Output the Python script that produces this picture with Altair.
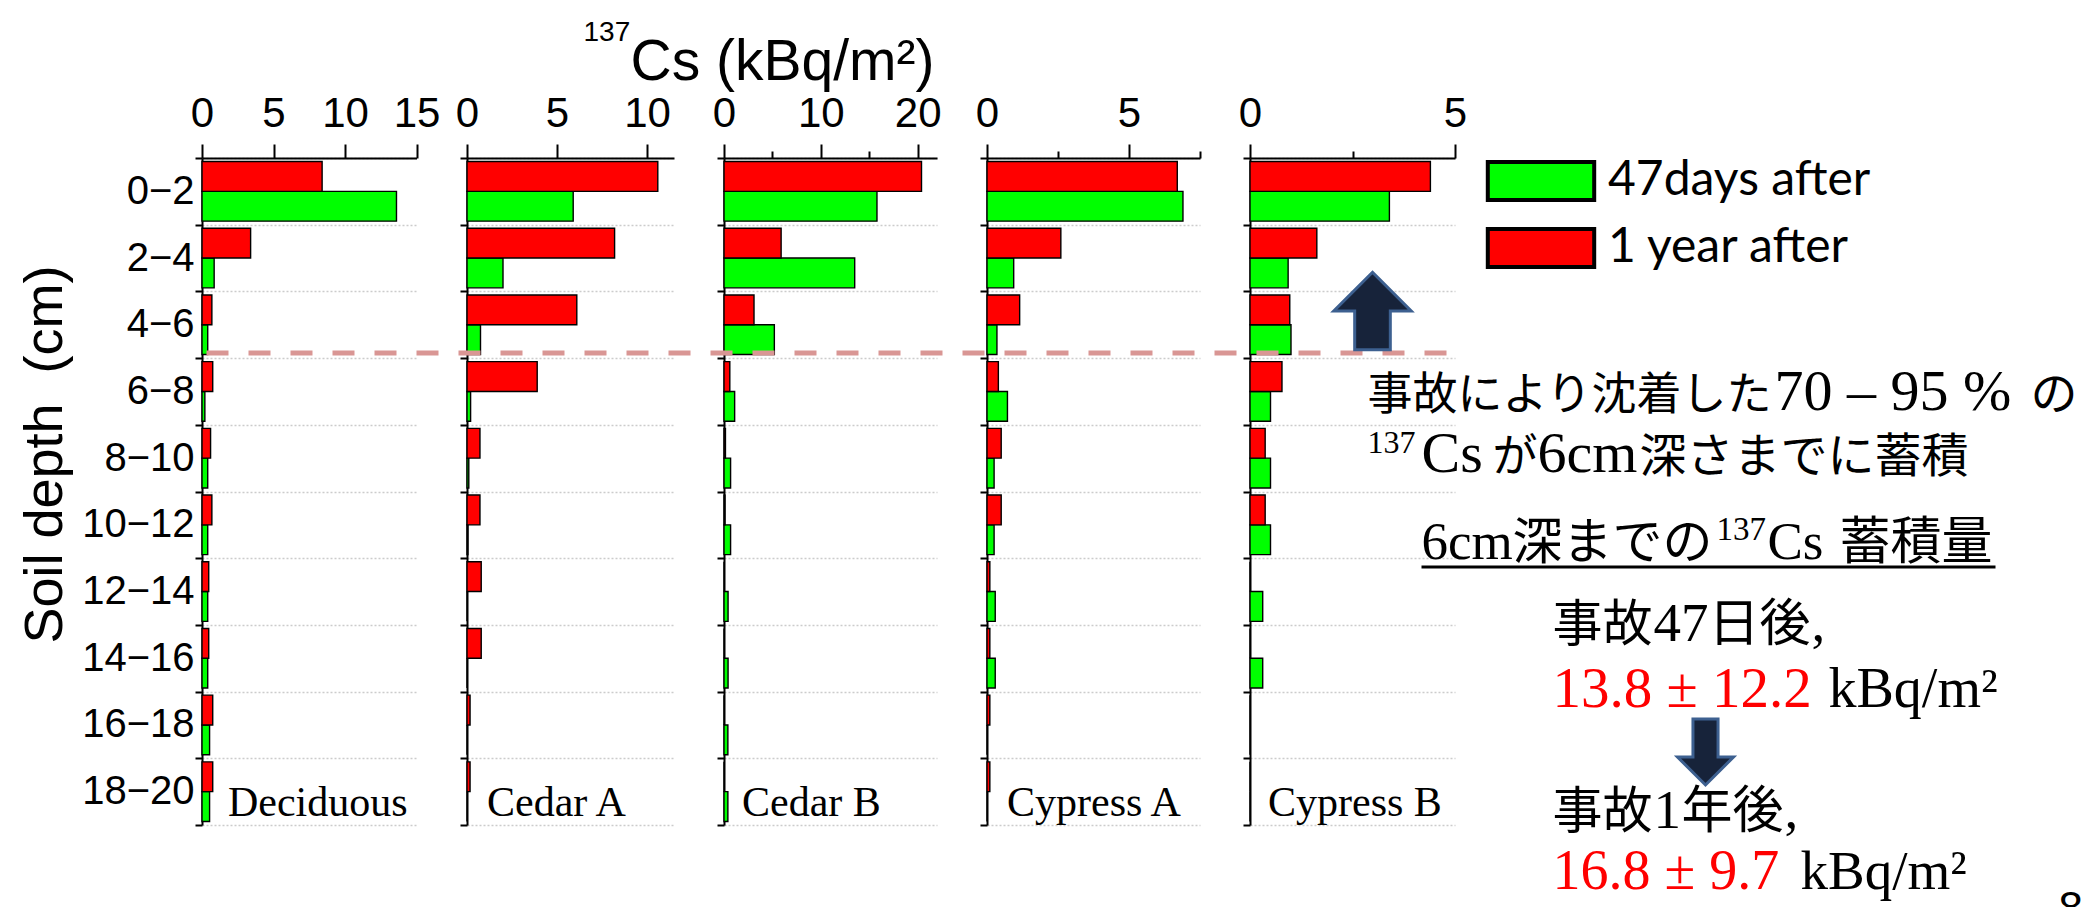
import altair as alt
import pandas as pd

# ---------------- data ----------------
depths = ["0−2", "2−4", "4−6", "6−8", "8−10", "10−12", "12−14", "14−16", "16−18", "18−20"]
series_names = ["47days after", "1 year after"]
sites = ["Deciduous", "Cedar A", "Cedar B", "Cypress A", "Cypress B"]

deciduous_47d = [13.6, 0.85, 0.4, 0.2, 0.4, 0.4, 0.4, 0.4, 0.53, 0.53]
deciduous_1y = [8.4, 3.4, 0.69, 0.75, 0.6, 0.69, 0.47, 0.47, 0.75, 0.75]
cedarA_47d = [5.9, 2.0, 0.75, 0.2, 0.1, 0.05, 0, 0, 0, 0]
cedarA_1y = [10.6, 8.2, 6.1, 3.9, 0.72, 0.72, 0.79, 0.79, 0.17, 0.17]
cedarB_47d = [15.8, 13.5, 5.2, 1.1, 0.68, 0.68, 0.42, 0.42, 0.4, 0.4]
cedarB_1y = [20.4, 5.9, 3.1, 0.6, 0.15, 0.1, 0, 0, 0, 0]
cypressA_47d = [6.9, 0.94, 0.35, 0.72, 0.25, 0.25, 0.29, 0.29, 0, 0]
cypressA_1y = [6.7, 2.6, 1.15, 0.4, 0.5, 0.5, 0.1, 0.1, 0.1, 0.1]
cypressB_47d = [3.4, 0.93, 1.0, 0.5, 0.5, 0.5, 0.31, 0.31, 0, 0]
cypressB_1y = [4.4, 1.63, 0.97, 0.78, 0.37, 0.37, 0, 0, 0, 0]

x_max = [15, 11.5, 22, 7.5, 5]
tick_values = [[0, 5, 10, 15], [0, 5, 10], [0, 5, 10, 15, 20], [0, 2.5, 5, 7.5], [0, 2.5, 5]]
label_step = [5, 5, 10, 5, 5]

# ---------------- layout / style ----------------
widths = [214.5, 207, 213, 213, 205]
PLOT_H = 667
SPACING = 50
LEFT, TOP = 202, 158
P5X = LEFT + sum(widths[:4]) + 4 * SPACING
P5Y = TOP
label_off = [26, 20, 18, 20, 18]

GREEN, RED = "#00ff00", "#ff0000"
SANS = "Liberation Sans"
SERIF = "Liberation Serif"
CJK = "Noto Sans CJK JP"


def note(text, X, Y, size, font, color="black", align="left", baseline="alphabetic"):
    return alt.Chart(pd.DataFrame({"t": [text]})).mark_text(
        align=align, baseline=baseline, font=font, fontSize=size, color=color
    ).encode(text="t:N", x=alt.value(X - P5X), y=alt.value(Y - P5Y))


def panel(i, v47, v1y):
    df = pd.DataFrame({
        "depth": depths * 2,
        "series": [series_names[0]] * len(depths) + [series_names[1]] * len(depths),
        "value": v47 + v1y,
    })
    step = label_step[i]
    xaxis = alt.Axis(
        orient="top", values=tick_values[i], title=None, grid=False,
        labelExpr=f"datum.value % {step} === 0 ? datum.label : ''",
        tickSize={"condition": {"test": f"datum.value % {step} === 0", "value": 14}, "value": 7},
        tickColor="black", tickWidth=2, domainColor="black", domainWidth=2,
        labelFont=SANS, labelFontSize=42, labelColor="black", labelPadding=9,
        labelFlush=False, labelOverlap=False,
    )
    yargs = dict(
        tickBand="extent", grid=True, gridColor="#cccccc", gridDash=[2, 2], gridWidth=1.5,
        domainColor="black", domainWidth=2, tickColor="black", tickWidth=2, tickSize=7,
        labels=(i == 0),
    )
    if i == 0:
        yargs.update(
            title="Soil depth\u00a0 (cm)", titleFont=SANS, titleFontSize=54, titleFontWeight="normal",
            titleColor="black", titleX=-157, titleY=296, titleAngle=270,
            titleAlign="center", titleBaseline="middle",
            labelFont=SANS, labelFontSize=40, labelColor="black", labelPadding=1,
        )
    else:
        yargs.update(title=None)
    yaxis = alt.Axis(**yargs)

    bars = alt.Chart(df).mark_bar(stroke="black", strokeWidth=1.4, opacity=1).encode(
        x=alt.X("value:Q", scale=alt.Scale(domain=[0, x_max[i]], nice=False, zero=True), axis=xaxis),
        y=alt.Y("depth:N", sort=depths, scale=alt.Scale(paddingInner=0, paddingOuter=0), axis=yaxis),
        yOffset=alt.YOffset("series:N", sort=[series_names[1], series_names[0]],
                            scale=alt.Scale(paddingInner=0, paddingOuter=0.12)),
        color=alt.Color(
            "series:N",
            scale=alt.Scale(domain=series_names, range=[GREEN, RED]),
            legend=alt.Legend(
                title=None, orient="none", legendX=1299, legendY=-17,
                symbolType="M-1.4,-0.5H1.4V0.5H-1.4Z", symbolSize=5776,
                symbolStrokeColor="black", symbolStrokeWidth=4, symbolOpacity=1,
                labelFont="Lato", labelFontSize=48, labelColor="black", labelLimit=0,
                labelOffset=27, rowPadding=-1, padding=0,
            ),
        ),
    )
    label = alt.Chart(pd.DataFrame({"site": [sites[i]]})).mark_text(
        align="left", baseline="middle", font=SERIF, fontSize=42, color="black"
    ).encode(text="site:N", x=alt.value(label_off[i]), y=alt.value(803 - TOP))
    return [bars, label]


values = [
    (deciduous_47d, deciduous_1y), (cedarA_47d, cedarA_1y), (cedarB_47d, cedarB_1y),
    (cypressA_47d, cypressA_1y), (cypressB_47d, cypressB_1y),
]

up_arrow = "M0,-1L1,0L0.46,0L0.46,1L-0.46,1L-0.46,0L-1,0Z"
down_arrow = "M-0.38,-1L0.38,-1L0.38,0.15L0.85,0.15L0,1L-0.85,0.15L-0.38,0.15Z"
one = pd.DataFrame({"a": [0]})

annotations = [
    alt.Chart(one).mark_rule(color="#d99694", strokeWidth=5, strokeDash=[22, 20]).encode(
        x=alt.value(206 - P5X), x2=alt.value(1452 - P5X), y=alt.value(353 - P5Y)),
    alt.Chart(one).mark_point(shape=up_arrow, size=6000, filled=True, fill="#17233a",
                              stroke="#3d6090", strokeWidth=3, opacity=1).encode(
        x=alt.value(1372 - P5X), y=alt.value(311 - P5Y)),
    alt.Chart(one).mark_point(shape=down_arrow, size=4356, filled=True, fill="#17233a",
                              stroke="#3d6090", strokeWidth=3, opacity=1).encode(
        x=alt.value(1705 - P5X), y=alt.value(752 - P5Y)),
    alt.Chart(one).mark_rule(color="black", strokeWidth=3).encode(
        x=alt.value(1421 - P5X), x2=alt.value(1995 - P5X), y=alt.value(567 - P5Y)),
    # axis title
    note("137", 583, 33, 28, SANS, baseline="middle"),
    note("Cs (kBq/m²)", 630, 80, 57, SANS),
    # line 1
    note("事故により沈着した", 1367, 410, 45, CJK),
    note("70 – 95 %", 1774, 410, 58, SERIF),
    note("の", 2030, 410, 47, CJK),
    # line 2
    note("137", 1367, 453, 32, SERIF),
    note("Cs", 1421, 472, 58, SERIF),
    note("が", 1492, 472, 45, CJK),
    note("6cm", 1537, 472, 58, SERIF),
    note("深さまでに蓄積", 1639, 472, 47, CJK),
    # line 3 (underlined)
    note("6cm", 1421, 559, 53, SERIF),
    note("深までの", 1512, 559, 50, CJK),
    note("137", 1716, 540, 33, SERIF),
    note("Cs", 1767, 559, 53, SERIF),
    note("蓄積量", 1839, 559, 51, CJK),
    # line 4
    note("事故", 1552, 641, 50, CJK),
    note("47", 1653, 641, 55, SERIF),
    note("日後", 1708, 641, 51, CJK),
    note(",", 1811, 641, 55, SERIF),
    # line 5
    note("13.8 ± 12.2", 1552, 707, 57, SERIF, color=RED),
    note("kBq/m²", 1828, 707, 56, SERIF),
    # line 6
    note("事故", 1552, 828, 50, CJK),
    note("1", 1653, 828, 55, SERIF),
    note("年後", 1681, 828, 51, CJK),
    note(",", 1784, 828, 55, SERIF),
    # line 7
    note("16.8 ± 9.7", 1552, 889, 56, SERIF, color=RED),
    note("kBq/m²", 1800, 889, 55, SERIF),
    note("8", 2058, 888, 44, SANS, baseline="top"),
]

panels = []
for i, (v47, v1y) in enumerate(values):
    layers = panel(i, v47, v1y)
    if i == 4:
        layers += annotations
    panels.append(alt.layer(*layers).properties(width=widths[i], height=PLOT_H))

chart = alt.hconcat(*panels, spacing=SPACING, bounds="flush").resolve_scale(
    x="independent", y="independent", yOffset="independent", color="shared"
).properties(
    autosize=alt.AutoSizeParams(type="none"),
    padding={"left": LEFT, "top": TOP, "right": 2089 - LEFT, "bottom": 907 - TOP},
    background="white",
).configure_view(strokeWidth=0)

chart.save("out.html", embed_options={"renderer": "svg", "actions": False})
